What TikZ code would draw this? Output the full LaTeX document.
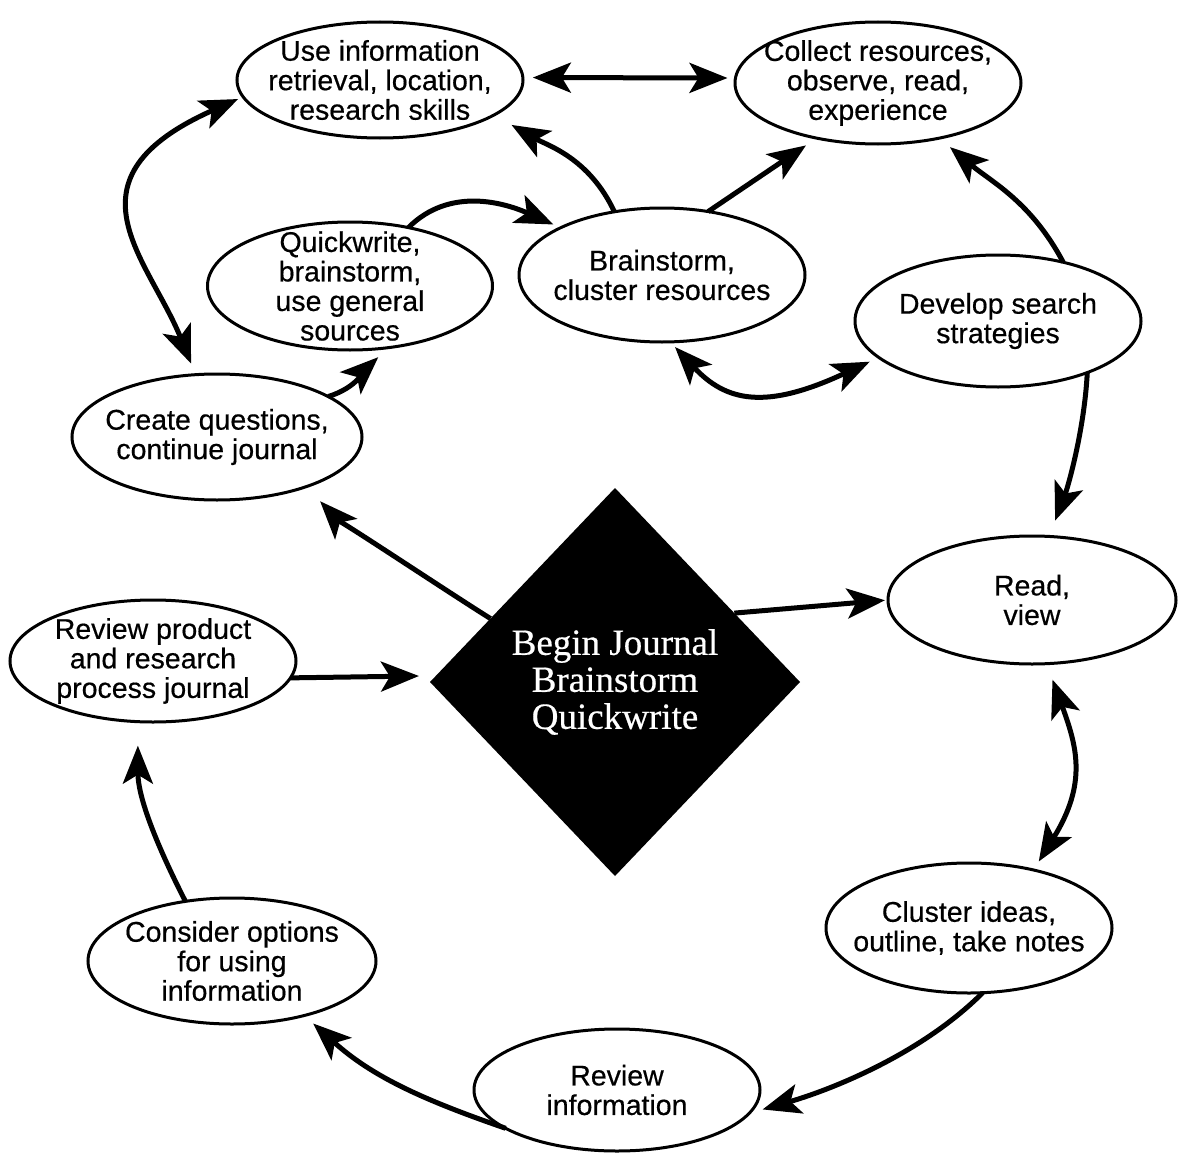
\documentclass[tikz,border=0pt]{standalone}
\usepackage{fontspec}
\setmainfont{Liberation Sans}[FakeBold=0.5]
\newfontfamily\diafont{Liberation Serif}[FakeBold=0.5]
\usetikzlibrary{shapes.geometric,arrows.meta}
\begin{document}
\begin{tikzpicture}[x=1pt,y=1pt,
  stage/.style={ellipse,draw,line width=3pt,inner sep=-80pt,outer sep=0pt,align=center,
    font=\fontsize{28.5}{29.5}\selectfont},
  link/.style={line width=5pt,-{Stealth[length=38pt,width=30pt,inset=9pt]}},
  dlink/.style={line width=5pt,{Stealth[length=38pt,width=30pt,inset=9pt]}-{Stealth[length=38pt,width=30pt,inset=9pt]}},
]
\useasboundingbox (0,0) rectangle (1184,-1156);
\fill[white] (0,0) rectangle (1184,-1156);

% process stages
\node[stage,minimum width=286pt,minimum height=116pt] (use) at (380,-80) {Use information\\retrieval, location,\\research skills};
\node[stage,minimum width=286pt,minimum height=122pt] (collect) at (878,-83) {Collect resources,\\observe, read,\\experience};
\node[stage,minimum width=285pt,minimum height=128pt] (quick) at (350,-286) {Quickwrite,\\brainstorm,\\use general\\sources};
\node[stage,minimum width=286pt,minimum height=134pt] (brain) at (662,-275) {Brainstorm,\\cluster resources};
\node[stage,minimum width=286pt,minimum height=132pt] (search) at (998,-321) {Develop search\\strategies};
\node[stage,minimum width=290pt,minimum height=126pt] (create) at (217,-437) {Create questions,\\continue journal};
\node[stage,minimum width=288pt,minimum height=128pt] (read) at (1032,-600) {Read,\\view};
\node[stage,minimum width=286pt,minimum height=122pt] (product) at (153,-661) {Review product\\and research\\process journal};
\node[stage,minimum width=288pt,minimum height=126pt] (options) at (232,-961) {Consider options\\for using\\information};
\node[stage,minimum width=286pt,minimum height=130pt] (cluster) at (969,-928) {Cluster ideas,\\outline, take notes};
\node[stage,minimum width=286pt,minimum height=122pt] (revinfo) at (617,-1090) {Review\\information};

% central start
\node[diamond,fill=black,text=white,minimum width=370pt,minimum height=388pt,inner sep=0pt,outer sep=0pt,
  align=center,font=\diafont\fontsize{37}{37}\selectfont] (begin) at (615,-682) {Begin Journal\\Brainstorm\\Quickwrite};

% connectors
\draw[dlink,shorten <=10pt,shorten >=8pt] (use.1) -- (collect.178);
\draw[link,shorten >=20pt] (brain.127) to[out=115,in=-30] (use.-17.7);
\draw[link,shorten >=13pt] (brain.54.7) -- (collect.222);
\draw[link,shorten >=8pt] (quick.45.5) to[out=45,in=156] (brain.155.4);
\draw[dlink,shorten <=5.5pt,shorten >=12pt] (use.187.2)
  to[out=204,in=112,out distance=202pt,in distance=126pt] (create.109.9);
\draw[link,shorten >=14pt] (create.20.3) to[out=17,in=-137] (quick.-58.7);
\draw[dlink,shorten <=7pt,shorten >=10pt] (brain.-83.7)
  to[out=-47,in=205,out distance=82pt,in distance=125pt] (search.197.4);
\draw[link,shorten >=14pt] (search.42.3) to[out=118,in=-40] (collect.-42.9);
\draw[link,shorten >=17pt] (search.-30.4) to[out=-93,in=69,out distance=60pt,in distance=50pt] (read.75.5);
\draw[link,shorten >=20pt] (begin.153.4) to[out=148,in=-47,out distance=50pt,in distance=40pt] (create.-29.8);
\draw[link,shorten >=3pt] (begin.30.5) -- (read.180);
\draw[link,shorten >=17pt] (product.-7.5) -- (begin.178.6);
\draw[dlink,shorten <=17pt,shorten >=10pt] (read.-77.2)
  to[out=-70,in=58,out distance=87pt,in distance=103pt] (cluster.42.8);
\draw[link,shorten >=14pt] (cluster.-78.7) to[out=-135,in=16,out distance=90pt,in distance=80pt] (revinfo.-10);
\draw[link,shorten >=12pt] (revinfo.199.7) to[out=161,in=-42] (options.-37.8);
\draw[link,shorten >=24pt] (options.128.5) to[out=117,in=-90] (product.-104);
\end{tikzpicture}
\end{document}
